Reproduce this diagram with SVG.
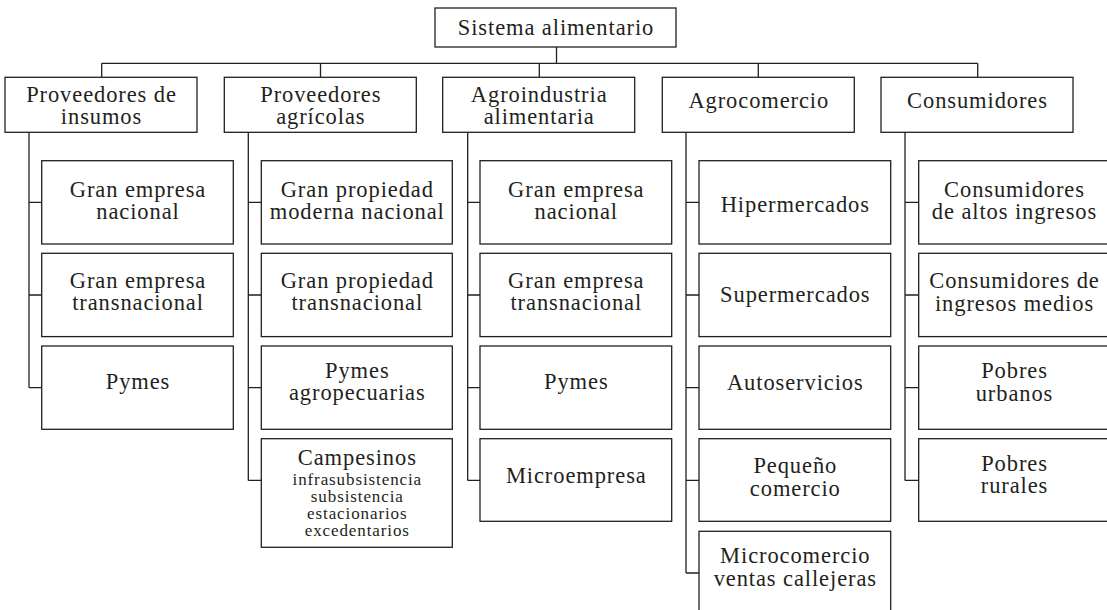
<svg xmlns="http://www.w3.org/2000/svg" width="1107" height="610" viewBox="0 0 1107 610">
<style>
.box{fill:#fff;stroke:#231f20;stroke-width:1.3}
.conn{fill:none;stroke:#231f20;stroke-width:1.3}
text{font-family:"Liberation Serif","Times New Roman",serif;font-size:22.5px;letter-spacing:0.9px;fill:#231f20;text-anchor:middle}
.s{font-size:17px;letter-spacing:0.9px}
</style>
<rect width="1107" height="610" fill="#fff"/>
<g id="connectors" class="conn">
<path d="M556.5 47V63.3M101.7 63.3H977.7M101.7 63.3V77.3M320.5 63.3V77.3M539.3 63.3V77.3M758.3 63.3V77.3M977.7 63.3V77.3"/>
<path d="M29 132.3V387.7M29 202.4H41.7M29 295H41.7M29 387.7H41.7"/>
<path d="M248.3 132.3V480.4M248.3 202.4H261.3M248.3 295H261.3M248.3 387.7H261.3M248.3 480.4H261.3"/>
<path d="M467.7 132.3V480.4M467.7 202.4H480M467.7 295H480M467.7 387.7H480M467.7 480.4H480"/>
<path d="M686 132.3V573M686 202.4H699M686 295H699M686 387.7H699M686 480.4H699M686 573H699"/>
<path d="M905 132.3V480.4M905 202.4H918.7M905 295H918.7M905 387.7H918.7M905 480.4H918.7"/>
</g>
<g id="n-root"><rect class="box" x="435" y="8" width="241" height="39"/><text x="556" y="35">Sistema alimentario</text></g>
<g id="n-insumos"><rect class="box" x="5" y="77.3" width="192" height="55"/><text x="101.5" y="101.7">Proveedores de</text><text x="101.5" y="124.3">insumos</text></g>
<g id="n-agricolas"><rect class="box" x="224.3" y="77.3" width="192" height="55"/><text x="320.8" y="101.7">Proveedores</text><text x="320.8" y="124.3">agrícolas</text></g>
<g id="n-agroindustria"><rect class="box" x="442.7" y="77.3" width="192" height="55"/><text x="539.2" y="101.7">Agroindustria</text><text x="539.2" y="124.3">alimentaria</text></g>
<g id="n-agrocomercio"><rect class="box" x="662.3" y="77.3" width="192" height="55"/><text x="758.8" y="108.3">Agrocomercio</text></g>
<g id="n-consumidores"><rect class="box" x="881" y="77.3" width="192" height="55"/><text x="977.5" y="108.3">Consumidores</text></g>

<g id="n-c1-1"><rect class="box" x="41.7" y="160.7" width="191.6" height="83.3"/><text x="138" y="196.7">Gran empresa</text><text x="138" y="219.3">nacional</text></g>
<g id="n-c1-2"><rect class="box" x="41.7" y="253.3" width="191.6" height="83.3"/><text x="138" y="287.7">Gran empresa</text><text x="138" y="310.3">transnacional</text></g>
<g id="n-c1-3"><rect class="box" x="41.7" y="346" width="191.6" height="83.3"/><text x="138" y="389">Pymes</text></g>

<g id="n-c2-1"><rect class="box" x="261.3" y="160.7" width="191" height="83.3"/><text x="357.3" y="196.7">Gran propiedad</text><text x="357.3" y="219.3">moderna nacional</text></g>
<g id="n-c2-2"><rect class="box" x="261.3" y="253.3" width="191" height="83.3"/><text x="357.3" y="287.7">Gran propiedad</text><text x="357.3" y="310.3">transnacional</text></g>
<g id="n-c2-3"><rect class="box" x="261.3" y="346" width="191" height="83.3"/><text x="357.3" y="377.7">Pymes</text><text x="357.3" y="400.3">agropecuarias</text></g>
<g id="n-c2-4"><rect class="box" x="261.3" y="438.7" width="191" height="108.6"/><text x="357.3" y="464.5">Campesinos</text><text class="s" x="357.3" y="484.5">infrasubsistencia</text><text class="s" x="357.3" y="501.7">subsistencia</text><text class="s" x="357.3" y="518.9">estacionarios</text><text class="s" x="357.3" y="536.1">excedentarios</text></g>

<g id="n-c3-1"><rect class="box" x="480" y="160.7" width="191.7" height="83.3"/><text x="576.3" y="196.7">Gran empresa</text><text x="576.3" y="219.3">nacional</text></g>
<g id="n-c3-2"><rect class="box" x="480" y="253.3" width="191.7" height="83.3"/><text x="576.3" y="287.7">Gran empresa</text><text x="576.3" y="310.3">transnacional</text></g>
<g id="n-c3-3"><rect class="box" x="480" y="346" width="191.7" height="83.3"/><text x="576.3" y="389.3">Pymes</text></g>
<g id="n-c3-4"><rect class="box" x="480" y="438.7" width="191.7" height="82.6"/><text x="576.3" y="483.3">Microempresa</text></g>

<g id="n-c4-1"><rect class="box" x="699" y="160.7" width="191.7" height="83.3"/><text x="795.3" y="211.7">Hipermercados</text></g>
<g id="n-c4-2"><rect class="box" x="699" y="253.3" width="191.7" height="83.3"/><text x="795.3" y="302.3">Supermercados</text></g>
<g id="n-c4-3"><rect class="box" x="699" y="346" width="191.7" height="83.3"/><text x="795.3" y="390">Autoservicios</text></g>
<g id="n-c4-4"><rect class="box" x="699" y="438.7" width="191.7" height="82.6"/><text x="795.3" y="473.3">Pequeño</text><text x="795.3" y="495.9">comercio</text></g>
<g id="n-c4-5"><rect class="box" x="699" y="531.3" width="191.7" height="83.3"/><text x="795.3" y="563.3">Microcomercio</text><text x="795.3" y="585.9">ventas callejeras</text></g>

<g id="n-c5-1"><rect class="box" x="918.7" y="160.7" width="191.6" height="83.3"/><text x="1014.5" y="196.7">Consumidores</text><text x="1014.5" y="219.3">de altos ingresos</text></g>
<g id="n-c5-2"><rect class="box" x="918.7" y="253.3" width="191.6" height="83.3"/><text x="1014.5" y="288">Consumidores de</text><text x="1014.5" y="310.6">ingresos medios</text></g>
<g id="n-c5-3"><rect class="box" x="918.7" y="346" width="191.6" height="83.3"/><text x="1014.5" y="378">Pobres</text><text x="1014.5" y="400.6">urbanos</text></g>
<g id="n-c5-4"><rect class="box" x="918.7" y="438.7" width="191.6" height="82.6"/><text x="1014.5" y="470.5">Pobres</text><text x="1014.5" y="493.1">rurales</text></g>
</svg>
